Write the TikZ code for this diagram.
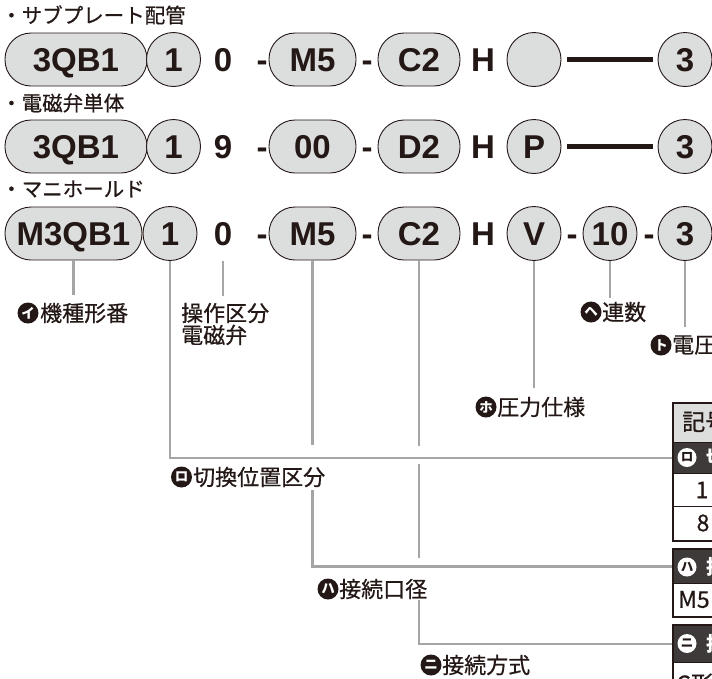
\documentclass[tikz,border=0pt]{standalone}
\usepackage{fontspec}
\newfontfamily\jpf{Noto Sans CJK JP}
\newfontfamily\jpm{Noto Sans CJK JP}[FakeBold=0.6]
\newfontfamily\latb{Liberation Sans}
\definecolor{ink}{HTML}{231815}
\definecolor{pillfill}{HTML}{DCDDDD}
\definecolor{conn}{HTML}{A5A5A5}
\definecolor{darkrow}{HTML}{3E3A39}
\tikzset{
  code/.style={font=\latb\bfseries\fontsize{33}{33}\selectfont, text=ink, inner sep=0pt, text height=23.6pt, text depth=0pt},
  pill/.style={code, draw=ink, line width=0.9pt, fill=pillfill, rounded corners=26pt, minimum height=53pt},
  ring/.style={code, draw=ink, line width=0.9pt, fill=pillfill, circle, minimum size=54pt},
  plain/.style={code},
  bar/.style={draw=ink, line width=5.5pt, shorten <=6pt, shorten >=5pt},
  head/.style={font=\jpm\fontsize{20.5}{20.5}\selectfont, text=ink, anchor=west, inner sep=0pt},
  lbl/.style={font=\jpm\fontsize{22}{22}\selectfont, text=ink, anchor=west, inner sep=0pt, align=left},
  badge/.style={circle, fill=ink, text=white, minimum size=21pt, inner sep=0pt, font=\jpf\bfseries\fontsize{13.5}{13.5}\selectfont},
  wbadge/.style={circle, fill=white, text=ink, minimum size=19pt, inner sep=0pt, font=\jpf\bfseries\fontsize{12.5}{12.5}\selectfont},
  lead/.style={draw=conn, line width=2.6pt},
  rowbox/.style={anchor=north west, minimum width=60pt, inner sep=0pt, draw=ink, line width=1pt},
  cell/.style={font=\jpm\fontsize{23}{23}\selectfont, text=ink, inner sep=0pt},
  wcell/.style={cell, anchor=west, text=white, font=\jpf\bfseries\fontsize{20}{20}\selectfont},
  tframe/.style={draw=ink, line width=2pt},
}
\begin{document}
\begin{tikzpicture}[x=1pt,y=-1pt]
\useasboundingbox (0,0) rectangle (712,678);
\clip (0,0) rectangle (712,678);
% headers
\node[head] (hd1) at (1,15) {・サブプレート配管};
\node[head] (hd2) at (1,103) {・電磁弁単体};
\node[head] (hd3) at (1,189) {・マニホールド};
% row 1
\node[pill, minimum width=142pt] (a1) at (76,59.5) {3QB1};
\node[ring] (b1) at (173.5,59.5) {1};
\node[plain] (c1) at (223,59.5) {0};
\node[plain] (d1) at (262,59.5) {-};
\node[pill, minimum width=87pt] (e1) at (312.5,59.5) {M5};
\node[plain] (f1) at (367,59.5) {-};
\node[pill, minimum width=82pt] (g1) at (419,59.5) {C2};
\node[plain] (h1) at (483,59.5) {H};
\node[ring] (i1) at (534,59.5) {};
\node[ring] (k1) at (685,59.5) {3};
\draw[bar] (i1.east) -- (k1.west);
% row 2
\node[pill, minimum width=142pt] (a2) at (76,146.5) {3QB1};
\node[ring] (b2) at (173.5,146.5) {1};
\node[plain] (c2) at (223,146.5) {9};
\node[plain] (d2) at (262,146.5) {-};
\node[pill, minimum width=87pt] (e2) at (312.5,146.5) {00};
\node[plain] (f2) at (367,146.5) {-};
\node[pill, minimum width=82pt] (g2) at (419,146.5) {D2};
\node[plain] (h2) at (483,146.5) {H};
\node[ring] (i2) at (534,146.5) {P};
\node[ring] (k2) at (685,146.5) {3};
\draw[bar] (i2.east) -- (k2.west);
% row 3
\node[pill, minimum width=137pt] (a3) at (73.5,233.5) {M3QB1};
\node[ring] (b3) at (170,233.5) {1};
\node[plain] (c3) at (223,233.5) {0};
\node[plain] (d3) at (262,233.5) {-};
\node[pill, minimum width=87pt] (e3) at (312.5,233.5) {M5};
\node[plain] (f3) at (367,233.5) {-};
\node[pill, minimum width=82pt] (g3) at (419,233.5) {C2};
\node[plain] (h3) at (483,233.5) {H};
\node[ring] (i3) at (534,233.5) {V};
\node[plain] (m3) at (572,233.5) {-};
\node[ring] (j3) at (610,233.5) {10};
\node[plain] (n3) at (649,233.5) {-};
\node[ring] (k3) at (685,233.5) {3};
% table row anchors (placed first so leaders can reach them)
\path (673,442) node[rowbox, draw=none, minimum height=31pt] (dr1) {};
\path (673,549) node[rowbox, draw=none, minimum height=34pt] (dr2) {};
\path (673,625) node[rowbox, draw=none, minimum height=37pt] (dr3) {};
% leader end points
\coordinate (ka) at (73.5,295);
\coordinate (oa) at (223,261);
\coordinate (ob) at (223,296);
\coordinate (m5a) at (312.5,445);
\coordinate (m5b) at (312.5,490);
\coordinate (c2a) at (419,446);
\coordinate (c2b) at (419,464);
\coordinate (c2c) at (419,558);
\coordinate (c2d) at (419,600);
\coordinate (va) at (534,388);
\coordinate (na) at (610,298);
\coordinate (za) at (685,327);
% leaders
\draw[lead] (a3.south) -- (ka);
\draw[lead] (oa) -- (ob);
\draw[lead] (b3.south) |- (dr1.west);
\draw[lead] (e3.south) -- (m5a);
\draw[lead] (m5b) |- (dr2.west);
\draw[lead] (g3.south) -- (c2a);
\draw[lead] (c2b) -- (c2c);
\draw[lead] (c2d) |- (dr3.west);
\draw[lead] (i3.south) -- (va);
\draw[lead] (j3.south) -- (na);
\draw[lead] (k3.south) -- (za);
% tables
\node[rowbox, fill=pillfill, minimum height=39pt] (th1b) at (673,403) {};
\node[rowbox, fill=darkrow, minimum height=31pt] (dr1b) at (673,442) {};
\node[rowbox, fill=white, minimum height=33pt] (w11) at (673,473) {};
\node[rowbox, fill=white, minimum height=34pt] (w12) at (673,506) {};
\draw[tframe] (th1b.north west) rectangle (w12.south east);
\node[rowbox, fill=darkrow, minimum height=34pt] (dr2b) at (673,549) {};
\node[rowbox, fill=white, minimum height=33pt] (w21) at (673,583) {};
\draw[tframe] (dr2b.north west) rectangle (w21.south east);
\node[rowbox, fill=darkrow, minimum height=37pt] (dr3b) at (673,625) {};
\node[rowbox, fill=white, minimum height=40pt] (w31) at (673,662) {};
\draw[tframe] (dr3b.north west) rectangle (w31.south east);
\node[cell, anchor=west] (tx0) at (682,422) {記号};
\node[wbadge] (tb1) at (687,457.5) {ロ};
\node[wcell] (tt1) at (706,457.5) {切換位置区分};
\node[cell] (tx1) at (702,490) {1};
\node[cell] (tx2) at (703,523) {8};
\node[wbadge] (tb2) at (687,567) {ハ};
\node[wcell] (tt2) at (706,567) {接続口径};
\node[cell, anchor=west] (tx3) at (678,599.5) {M5};
\node[wbadge] (tb3) at (687,643.5) {ニ};
\node[wcell] (tt3) at (706,643.5) {接続方式};
\node[cell, anchor=west] (tx4) at (676,684) {C形};
% labels
\node[badge] (bi) at (28,313) {イ};
\node[lbl] (li) at (40,313) {機種形番};
\node[lbl] (lo) at (181,324) {操作区分\\電磁弁};
\node[badge] (bro) at (181.5,477) {ロ};
\node[lbl] (lro) at (193,477) {切換位置区分};
\node[badge] (bha) at (328,589) {ハ};
\node[lbl] (lha) at (339,589) {接続口径};
\node[badge] (bni) at (431,665) {ニ};
\node[lbl] (lni) at (442,665) {接続方式};
\node[badge] (bho) at (486,407) {ホ};
\node[lbl] (lho) at (497,407) {圧力仕様};
\node[badge] (bhe) at (591,312) {ヘ};
\node[lbl] (lhe) at (602,312) {連数};
\node[badge] (bto) at (661,345) {ト};
\node[lbl] (lto) at (672,345) {電圧};
\end{tikzpicture}
\end{document}
